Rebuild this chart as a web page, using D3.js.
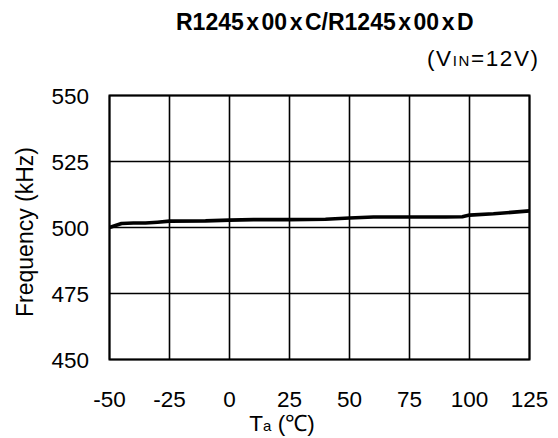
<!DOCTYPE html>
<html>
<head>
<meta charset="utf-8">
<script src="https://cdn.jsdelivr.net/npm/d3@7"></script>
<style>
  body { margin: 0; background: #fff; }
  text { font-family: "Liberation Sans", Arial, sans-serif; fill: #000; }
</style>
</head>
<body>
<svg id="chart" width="558" height="438"></svg>
<script>
// 数据：温度(℃) 与 频率(kHz)
const temps = [-50, -45, -40, -35, -30, -25, -10, 0, 10, 25, 40, 50, 60, 75, 90, 97, 100, 110, 125];
const freqs = [500.0, 501.5, 501.7, 501.7, 502.0, 502.4, 502.5, 502.8, 503.0, 503.0, 503.1, 503.6, 504.0, 504.0, 504.0, 504.1, 504.7, 505.2, 506.3];
const xTicks = [-50, -25, 0, 25, 50, 75, 100, 125];
const yTicks = [450, 475, 500, 525, 550];
// 标题分段（x 两侧留空）
const titleParts = ["R1245", "x", "00", "x", "C/R1245", "x", "00", "x", "D"];

let init = {
    draw: function () {
        const svg = d3.select("#chart");
        const x = d3.scaleLinear().domain([-50, 125]).range([109.5, 529.5]);
        const y = d3.scaleLinear().domain([450, 550]).range([359.5, 95.5]);

        // 网格
        svg.append("g").selectAll("line").data(xTicks).enter().append("line")
            .attr("x1", d => x(d)).attr("x2", d => x(d))
            .attr("y1", y(450)).attr("y2", y(550))
            .attr("stroke", "#000").attr("stroke-width", 1.6);
        svg.append("g").selectAll("line").data(yTicks).enter().append("line")
            .attr("y1", d => y(d)).attr("y2", d => y(d))
            .attr("x1", x(-50)).attr("x2", x(125))
            .attr("stroke", "#000").attr("stroke-width", 1.6);
        svg.append("rect")
            .attr("x", x(-50)).attr("y", y(550))
            .attr("width", x(125) - x(-50)).attr("height", y(450) - y(550))
            .attr("fill", "none").attr("stroke", "#000").attr("stroke-width", 2);

        // 刻度文字
        svg.append("g").selectAll("text").data(yTicks).enter().append("text")
            .attr("x", 89).attr("y", d => y(d) + 8)
            .attr("text-anchor", "end").style("font-size", "22.5px")
            .text(d => d);
        svg.append("g").selectAll("text").data(xTicks).enter().append("text")
            .attr("x", d => x(d)).attr("y", 407)
            .attr("text-anchor", "middle").style("font-size", "22.5px")
            .text(d => d);

        // 曲线
        const line = d3.line().x((d, i) => x(temps[i])).y(d => y(d));
        svg.append("path").datum(freqs)
            .attr("d", line)
            .attr("fill", "none").attr("stroke", "#000")
            .attr("stroke-width", 3.6).attr("stroke-linejoin", "round");

        // 标题
        svg.append("text").attr("x", 176).attr("y", 30)
            .style("font-size", "23px").style("font-weight", "bold")
            .selectAll("tspan").data(titleParts).enter().append("tspan")
            .attr("dx", (d, i) => i === 0 ? 0 : 2.5)
            .text(d => d);
        const sub = svg.append("text").attr("x", 427).attr("y", 66)
            .style("font-size", "22.5px")
            .attr("textLength", 111).attr("lengthAdjust", "spacing");
        sub.append("tspan").text("(V");
        sub.append("tspan").style("font-size", "15px").text("IN");
        sub.append("tspan").text("=12V)");

        // 轴标题
        svg.append("text")
            .attr("transform", "translate(33,232) rotate(-90)")
            .attr("text-anchor", "middle").style("font-size", "23px")
            .text("Frequency (kHz)");
        const xt = svg.append("text").attr("x", 282).attr("y", 431)
            .attr("text-anchor", "middle").style("font-size", "22.5px");
        xt.append("tspan").text("T");
        xt.append("tspan").style("font-size", "15px").text("a");
        xt.append("tspan").text(" (℃)");
    }
};

window.onload = function () {
    init.draw();
};
</script>
</body>
</html>
